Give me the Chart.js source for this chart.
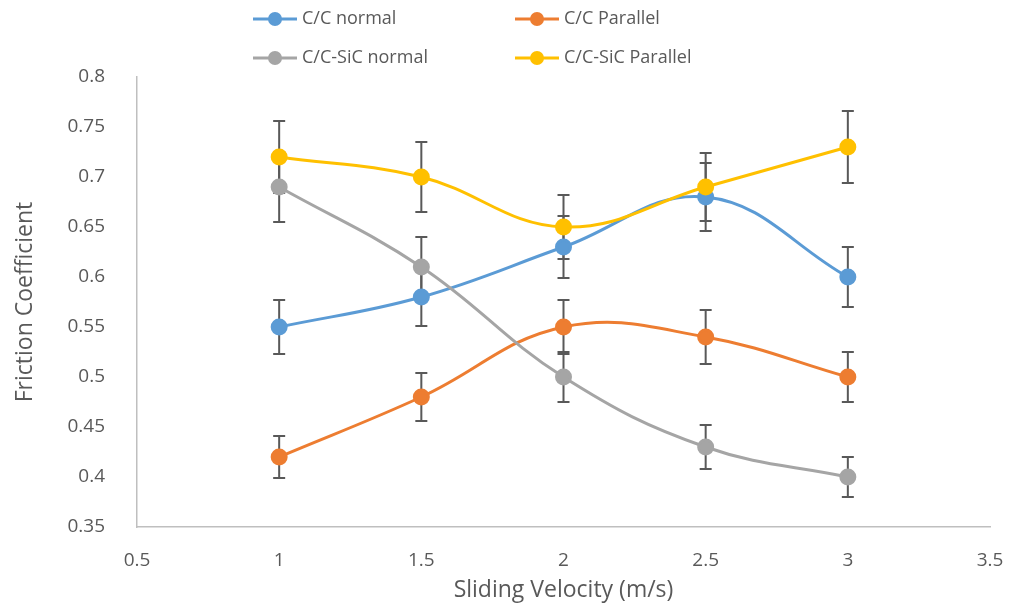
<!DOCTYPE html>
<html>
<head>
<meta charset="utf-8">
<script src="https://cdn.jsdelivr.net/npm/chart.js@4.4.1/dist/chart.umd.min.js"></script>
<style>
  html, body { margin: 0; padding: 0; background: #fff; }
  #wrap { width: 1010px; height: 607px; }
</style>
</head>
<body>
<div id="wrap"><canvas id="frictionChart" width="1010" height="607"></canvas></div>
<script>
const velocity = [1, 1.5, 2, 2.5, 3];

const ccNormal = [0.55, 0.58, 0.63, 0.68, 0.6];
const ccNormalErr = [0.027, 0.029, 0.031, 0.034, 0.03];

const ccParallel = [0.42, 0.48, 0.55, 0.54, 0.5];
const ccParallelErr = [0.021, 0.024, 0.027, 0.027, 0.025];

const sicNormal = [0.69, 0.61, 0.5, 0.43, 0.4];
const sicNormalErr = [0.035, 0.03, 0.025, 0.022, 0.02];

const sicParallel = [0.72, 0.7, 0.65, 0.69, 0.73];
const sicParallelErr = [0.036, 0.035, 0.032, 0.034, 0.036];

const FONT = "'Open Sans', sans-serif";
const TEXT = "#595959";

function series(label, ys, errs, color, order) {
  return {
    label: label,
    data: velocity.map((x, i) => ({ x: x, y: ys[i] })),
    errors: errs,
    borderColor: color,
    backgroundColor: color,
    pointBackgroundColor: color,
    pointBorderColor: color,
    pointRadius: 7,
    borderWidth: 3,
    tension: 0.4,
    order: order,
  };
}

// trims trailing zeros: 0.80 -> 0.8, 1.0 -> 1
const shortNum = (v) => String(+v.toFixed(2));

// vertical error bars with caps, drawn under the markers
const errorBars = {
  id: "errorBars",
  beforeDatasetsDraw(chart) {
    const ctx = chart.ctx;
    const xs = chart.scales.x;
    const ys = chart.scales.y;
    ctx.save();
    ctx.strokeStyle = "#595959";
    ctx.lineWidth = 2;
    chart.data.datasets.forEach((ds) => {
      ds.data.forEach((p, i) => {
        const e = ds.errors[i];
        const px = xs.getPixelForValue(p.x);
        const top = ys.getPixelForValue(p.y + e);
        const bot = ys.getPixelForValue(p.y - e);
        ctx.beginPath();
        ctx.moveTo(px, top);
        ctx.lineTo(px, bot);
        ctx.moveTo(px - 6, top);
        ctx.lineTo(px + 6, top);
        ctx.moveTo(px - 6, bot);
        ctx.lineTo(px + 6, bot);
        ctx.stroke();
      });
    });
    ctx.restore();
  },
};

// two-column legend at the top
const gridLegend = {
  id: "gridLegend",
  afterDraw(chart) {
    const ctx = chart.ctx;
    const cols = [253, 515];
    const rows = [19, 58];
    ctx.save();
    ctx.font = "18px " + FONT;
    ctx.textBaseline = "middle";
    ctx.textAlign = "left";
    chart.data.datasets.forEach((ds, i) => {
      const x = cols[i % 2];
      const y = rows[Math.floor(i / 2)];
      ctx.strokeStyle = ds.borderColor;
      ctx.lineWidth = 3;
      ctx.beginPath();
      ctx.moveTo(x, y);
      ctx.lineTo(x + 44, y);
      ctx.stroke();
      ctx.fillStyle = ds.borderColor;
      ctx.beginPath();
      ctx.arc(x + 22, y, 7, 0, Math.PI * 2);
      ctx.fill();
      ctx.fillStyle = TEXT;
      ctx.fillText(ds.label, x + 49, y);
    });
    ctx.restore();
  },
};

const ctx = document.getElementById("frictionChart").getContext("2d");

const chart = new Chart(ctx, {
  type: "line",
  data: {
    datasets: [
      series("C/C normal", ccNormal, ccNormalErr, "#5B9BD5", 3),
      series("C/C Parallel", ccParallel, ccParallelErr, "#ED7D31", 2),
      series("C/C-SiC normal", sicNormal, sicNormalErr, "#A5A5A5", 1),
      series("C/C-SiC Parallel", sicParallel, sicParallelErr, "#FFC000", 0),
    ],
  },
  options: {
    responsive: false,
    animation: false,
    layout: { padding: { top: 77, right: 20, left: 0, bottom: 0 } },
    plugins: {
      legend: { display: false },
      tooltip: { enabled: false },
    },
    scales: {
      x: {
        type: "linear",
        min: 0.5,
        max: 3.5,
        ticks: {
          stepSize: 0.5,
          color: TEXT,
          font: { family: FONT, size: 19 },
          padding: 14,
          callback: shortNum,
        },
        grid: { display: false },
        border: { display: true, color: "#BFBFBF", width: 1.5 },
        title: {
          display: true,
          text: "Sliding Velocity (m/s)",
          color: TEXT,
          font: { family: FONT, size: 23 },
          padding: { top: 0, bottom: 3 },
        },
        afterFit(scale) {
          scale.height = 80;
          scale.paddingLeft = 0;
          scale.paddingRight = 0;
        },
      },
      y: {
        min: 0.35,
        max: 0.8,
        ticks: {
          stepSize: 0.05,
          color: TEXT,
          font: { family: FONT, size: 19 },
          padding: 24,
          callback: shortNum,
        },
        grid: { display: false },
        border: { display: true, color: "#BFBFBF", width: 1.5 },
        title: {
          display: true,
          text: "Friction Coefficient",
          color: TEXT,
          font: { family: FONT, size: 23 },
          padding: { top: 12, bottom: 0 },
        },
        afterFit(scale) {
          scale.width = 137;
          scale.paddingTop = 0;
          scale.paddingBottom = 0;
        },
      },
    },
  },
  plugins: [errorBars, gridLegend],
});
</script>
</body>
</html>
